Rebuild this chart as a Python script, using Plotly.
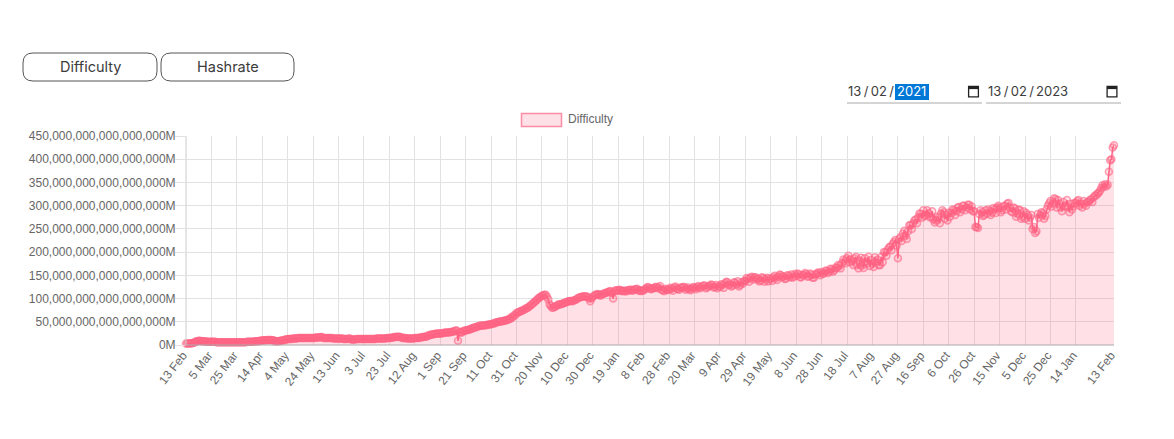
# -*- coding: utf-8 -*-
"""Difficulty over two years, with the page controls above the chart."""

import pandas as pd
import plotly.graph_objects as go

# =============================================================================
# DATA
# =============================================================================
START_DATE = '2021-02-13'
SERIES_NAME = 'Difficulty'
BUTTON_LABELS = ['Difficulty', 'Hashrate']
DATE_FROM = ['13\u2009/\u200902\u2009/', '2021']
DATE_TO = ['13\u2009/\u200902\u2009/', '2023']

# one reading a day, in units of 1e15 M, one row per 20-day tick
DIFFICULTY = [
    3, 3, 3, 3, 4, 4, 5, 6, 8, 8, 9, 9, 8, 8, 8, 8, 7, 7, 7, 7,
    7, 7, 7, 7, 6, 6, 6, 6, 6, 6, 6, 6, 6, 6, 6, 6, 6, 6, 6, 6,
    6, 6, 6, 6, 6, 6, 6, 6, 7, 7, 7, 7, 7, 7, 8, 8, 8, 8, 9, 9,
    10, 10, 10, 10, 11, 11, 11, 11, 10, 10, 8, 8, 8, 8, 9, 9, 10, 10, 12, 12,
    13, 13, 13, 13, 14, 14, 14, 14, 15, 15, 15, 15, 15, 15, 15, 15, 15, 15, 15, 15,
    15, 15, 16, 16, 16, 16, 17, 17, 15, 15, 15, 15, 15, 15, 15, 15, 14, 14, 14, 14,
    14, 14, 14, 14, 13, 13, 13, 13, 14, 14, 12, 12, 12, 12, 13, 13, 13, 13, 13, 13,
    13, 13, 13, 13, 13, 13, 13, 13, 13, 13, 14, 14, 14, 14, 14, 14, 14, 14, 15, 15,
    15, 15, 16, 16, 17, 17, 18, 18, 17, 17, 15, 15, 15, 15, 14, 14, 14, 14, 14, 14,
    15, 15, 15, 15, 16, 16, 17, 17, 18, 18, 20, 20, 22, 22, 23, 23, 24, 24, 25, 25,
    25, 25, 26, 26, 27, 27, 27, 27, 28, 28, 29, 29, 31, 31, 9, 28, 27, 27, 30, 30,
    32, 32, 33, 33, 35, 35, 37, 37, 39, 39, 41, 41, 42, 42, 42, 42, 43, 43, 44, 44,
    45, 45, 47, 47, 49, 49, 50, 50, 51, 51, 52, 52, 54, 54, 56, 56, 60, 60, 64, 64,
    69, 70, 71, 72, 74, 75, 76, 78, 79, 81, 83, 85, 87, 90, 92, 95, 97, 100, 102, 104,
    106, 107, 108, 108, 104, 98, 88, 84, 80, 81, 82, 84, 85, 87, 88, 88, 89, 90, 91, 92,
    93, 94, 95, 95, 94, 96, 97, 98, 100, 102, 103, 104, 104, 105, 105, 104, 104, 100, 94, 100,
    104, 106, 108, 109, 110, 108, 106, 109, 110, 111, 112, 113, 114, 115, 116, 112, 100, 115, 118, 118,
    117, 119, 118, 116, 116, 117, 115, 118, 117, 119, 119, 117, 118, 120, 120, 121, 117, 118, 116, 117,
    118, 120, 122, 125, 124, 121, 120, 122, 122, 125, 125, 122, 124, 127, 119, 118, 116, 121, 118, 120,
    119, 123, 121, 117, 124, 126, 122, 120, 119, 124, 123, 125, 125, 119, 121, 124, 120, 118, 122, 125,
    123, 120, 125, 127, 122, 124, 126, 128, 128, 122, 124, 127, 127, 130, 129, 124, 125, 129, 122, 127,
    125, 131, 129, 123, 133, 136, 135, 129, 131, 126, 128, 135, 134, 130, 137, 126, 129, 135, 132, 138,
    138, 144, 142, 136, 145, 147, 141, 146, 146, 141, 143, 137, 139, 146, 144, 136, 141, 145, 137, 143,
    142, 138, 146, 149, 144, 140, 147, 152, 150, 146, 148, 142, 143, 150, 149, 146, 152, 145, 147, 153,
    149, 154, 152, 146, 146, 151, 150, 155, 153, 147, 148, 154, 151, 145, 145, 152, 153, 156, 155, 150,
    157, 153, 155, 160, 160, 155, 158, 164, 163, 158, 161, 167, 166, 172, 170, 165, 176, 184, 181, 176,
    187, 192, 178, 184, 180, 172, 186, 190, 172, 165, 182, 188, 171, 166, 187, 180, 176, 190, 170, 183,
    175, 168, 189, 180, 184, 172, 172, 190, 178, 200, 199, 192, 205, 210, 212, 204, 218, 222, 226, 214,
    187, 228, 232, 224, 240, 246, 235, 228, 245, 258, 258, 250, 262, 268, 270, 262, 275, 283, 282, 274,
    290, 278, 280, 290, 284, 275, 276, 288, 270, 264, 268, 276, 274, 262, 283, 290, 286, 272, 280, 268,
    285, 276, 284, 292, 290, 280, 288, 296, 297, 286, 292, 300, 300, 290, 296, 302, 302, 292, 298, 288,
    288, 254, 254, 252, 282, 290, 286, 278, 280, 290, 283, 292, 288, 280, 285, 295, 292, 284, 296, 300,
    296, 286, 290, 298, 300, 292, 304, 306, 296, 288, 286, 296, 294, 276, 282, 292, 290, 272, 276, 288,
    272, 284, 280, 268, 274, 280, 250, 254, 241, 245, 282, 274, 280, 286, 284, 272, 278, 292, 300, 305,
    310, 298, 304, 316, 314, 296, 312, 304, 296, 288, 308, 298, 300, 312, 296, 286, 304, 292, 298, 306,
    306, 310, 312, 300, 304, 296, 310, 304, 300, 308, 308, 312, 314, 308, 318, 322, 322, 326, 328, 332,
    338, 344, 340, 346, 342, 345, 373, 398, 400, 425, 430,
]

TICK_LABELS = [
    '13 Feb', '5 Mar', '25 Mar', '14 Apr', '4 May', '24 May', '13 Jun', '3 Jul',
    '23 Jul', '12 Aug', '1 Sep', '21 Sep', '11 Oct', '31 Oct', '20 Nov', '10 Dec',
    '30 Dec', '19 Jan', '8 Feb', '28 Feb', '20 Mar', '9 Apr', '29 Apr', '19 May',
    '8 Jun', '28 Jun', '18 Jul', '7 Aug', '27 Aug', '16 Sep', '6 Oct', '26 Oct',
    '15 Nov', '5 Dec', '25 Dec', '14 Jan', '13 Feb',
]
Y_TICKS = [0, 50, 100, 150, 200, 250, 300, 350, 400, 450]
Y_LABELS = ['0M'] + [f'{v},000,000,000,000,000M' for v in Y_TICKS[1:]]

# =============================================================================
# CONFIGURATION
# =============================================================================
PAGE_MARGIN = 8  # the browser's own body margin
FIG_W, FIG_H = 1158, 423
PLOT_L, PLOT_R, PLOT_T, PLOT_B = 186, 1114, 136, 345

PINK = 'rgb(255,99,132)'
UI_FONT = 'Inter'
CHART_FONT = 'Liberation Sans'
UI_TEXT = '#3c3c3c'


def px(x):
    """Page pixel to paper x"""
    return (x - PLOT_L) / (PLOT_R - PLOT_L)


def py(y):
    """Page pixel to paper y"""
    return (PLOT_B - y) / (PLOT_B - PLOT_T)


def rounded_box(x0, y0, x1, y1, r):
    rx, ry = r / (PLOT_R - PLOT_L), r / (PLOT_B - PLOT_T)
    a, b, c, d = px(x0), px(x1), py(y0), py(y1)
    return (f'M{a + rx},{c} L{b - rx},{c} Q{b},{c} {b},{c - ry} L{b},{d + ry} '
            f'Q{b},{d} {b - rx},{d} L{a + rx},{d} Q{a},{d} {a},{d + ry} '
            f'L{a},{c - ry} Q{a},{c} {a + rx},{c} Z')


def paper_rect(x0, y0, x1, y1, **kw):
    return dict(type='rect', xref='paper', yref='paper', x0=px(x0), x1=px(x1),
                y0=py(y1), y1=py(y0), **kw)


def label(x, y, text, anchor='center', size=14.5, color=UI_TEXT, family=UI_FONT):
    return dict(xref='paper', yref='paper', x=px(x), y=py(y), text=text, showarrow=False,
                xanchor=anchor, yanchor='middle', borderpad=0,
                font=dict(size=size, color=color, family=family))


def calendar_icon(x, y):
    """Date input icon, x/y = top left"""
    return [
        paper_rect(x + 0.6, y + 1, x + 10.4, y + 11.4, line=dict(color='#222', width=1.3)),
        paper_rect(x + 0.6, y + 1, x + 10.4, y + 3.6, fillcolor='#222', line=dict(width=0)),
    ]


assert len(DIFFICULTY) == 731
dates = pd.date_range(START_DATE, periods=len(DIFFICULTY), freq='D')
tick_dates = list(dates[::20][:len(TICK_LABELS) - 1]) + [dates[-1]]

fig = go.Figure()
fig.add_trace(go.Scatter(
    x=dates,
    y=DIFFICULTY,
    mode='lines+markers',
    name=SERIES_NAME,
    cliponaxis=False,
    line=dict(color=PINK, width=1.5),
    marker=dict(size=7, color='rgba(255,99,132,0.2)',
                line=dict(color='rgba(255,99,132,0.6)', width=1.5)),
    fill='tozeroy',
    fillcolor='rgba(255,99,132,0.2)',
    showlegend=False,
))

shapes = [
    dict(type='path', xref='paper', yref='paper', path=rounded_box(23, 53, 157, 81, 10),
         line=dict(color='#555', width=1)),
    dict(type='path', xref='paper', yref='paper', path=rounded_box(161, 53, 294, 81, 10),
         line=dict(color='#555', width=1)),
    # date inputs
    paper_rect(895, 84, 929, 100, fillcolor='#0078d7', line=dict(width=0)),
    dict(type='line', xref='paper', yref='paper', x0=px(847), x1=px(982), y0=py(103), y1=py(103),
         line=dict(color='#aaa', width=1)),
    dict(type='line', xref='paper', yref='paper', x0=px(986), x1=px(1121), y0=py(103), y1=py(103),
         line=dict(color='#aaa', width=1)),
    # chart legend swatch
    paper_rect(521.5, 113.5, 561.5, 126.5, fillcolor='rgba(255,99,132,0.2)',
               line=dict(color='rgba(255,99,132,0.7)', width=1.5)),
]
shapes += calendar_icon(968, 85.5) + calendar_icon(1106.5, 85.5)

annotations = [
    label(90, 66.5, BUTTON_LABELS[0]),
    label(227.5, 66.5, BUTTON_LABELS[1]),
    label(895, 91.5, DATE_FROM[0], anchor='right', size=13),
    label(896, 91.5, DATE_FROM[1], anchor='left', size=13, color='white'),
    label(1035, 91.5, DATE_TO[0], anchor='right', size=13),
    label(1035, 91.5, DATE_TO[1], anchor='left', size=13),
    label(567, 119, SERIES_NAME, anchor='left', size=12, color='#666', family=CHART_FONT),
]

fig.update_layout(
    width=FIG_W,
    height=FIG_H,
    autosize=False,
    margin=dict(l=PLOT_L - PAGE_MARGIN, r=PAGE_MARGIN + FIG_W - PLOT_R,
                t=PLOT_T - PAGE_MARGIN, b=FIG_H + PAGE_MARGIN - PLOT_B, pad=0),
    paper_bgcolor='white',
    plot_bgcolor='white',
    shapes=shapes,
    annotations=annotations,
    font=dict(family=CHART_FONT, size=12, color='#666'),
    xaxis=dict(
        type='date',
        range=[dates[0], dates[-1]],
        tickmode='array',
        tickvals=tick_dates,
        ticktext=TICK_LABELS,
        tickangle=-52,
        ticklabelshift=-3,
        ticks='',
        showgrid=True,
        gridcolor='#e2e2e2',
        gridwidth=1,
        zeroline=False,
        showline=False,
    ),
    yaxis=dict(
        range=[0, 450],
        tickmode='array',
        tickvals=Y_TICKS,
        ticktext=Y_LABELS,
        ticks='outside',
        ticklen=10,
        ticklabelstandoff=-3,
        tickcolor='#e2e2e2',
        showgrid=True,
        gridcolor='#e2e2e2',
        gridwidth=1,
        zeroline=False,
        showline=False,
    ),
)
# zero lines of the chart, a little darker than the grid
fig.add_shape(type='line', xref='paper', yref='paper', x0=0, x1=1, y0=0, y1=0,
              line=dict(color='#aaa', width=1))
fig.add_shape(type='line', xref='paper', yref='paper', x0=0, x1=0, y0=0, y1=1,
              line=dict(color='#ccc', width=1))

fig.write_html('out.html')
